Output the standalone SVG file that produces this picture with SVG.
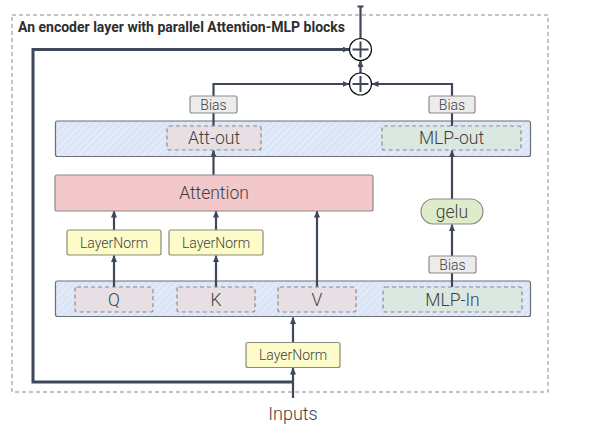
<svg xmlns="http://www.w3.org/2000/svg" width="601" height="432" viewBox="0 0 601 432">
<style>
text{font-family:Roboto,"Liberation Sans",sans-serif;fill:#3f3f3f;text-anchor:middle}
.title{font-weight:bold;font-size:14px;text-anchor:start;fill:#2e2e2e}
.band{fill:url(#hatch);stroke:#6b6f78;stroke-width:1.2}
.dash{stroke:#8a8a8a;stroke-width:1.2;stroke-dasharray:4 3}
.pk{fill:#e7dfe3}
.gr{fill:#dbe7e1}
.att{fill:#f2c8ca;stroke:#8a8a8a;stroke-width:1.2}
.ln{fill:#fdfcc9;stroke:#8a8a7a;stroke-width:1.2}
.bias{fill:#ececec;stroke:#8c8c8c;stroke-width:1.2}
.gelu{fill:#deecca;stroke:#8a8a8a;stroke-width:1.2}
.big{font-size:17.5px;font-weight:300}
.sm{font-size:14px;font-weight:300}
.wire{fill:none;stroke:#3f4858;stroke-width:2.2}
.skip{fill:none;stroke:#3f4858;stroke-width:3}
.arr{marker-end:url(#ah)}
.plus{fill:#fff;stroke:#111;stroke-width:1.2}
.pl{stroke:#3f4858;stroke-width:2}
</style>
<defs>
<pattern id="hatch" width="5" height="5" patternUnits="userSpaceOnUse" patternTransform="rotate(45)">
<rect width="5" height="5" fill="#dce5f6"/>
<line x1="0" y1="0" x2="0" y2="5" stroke="#eaeffa" stroke-width="2"/>
</pattern>
<marker id="ah" markerWidth="7" markerHeight="6" refX="6.5" refY="3" orient="auto" markerUnits="userSpaceOnUse">
<path d="M0,0 L7,3 L0,6 z" fill="#3f4858"/>
</marker>
</defs>

<rect id="frame" x="12" y="15" width="536" height="377" fill="none" stroke="#8a8a8a" stroke-width="1" stroke-dasharray="4 3"/>
<text class="title" x="18" y="32">An encoder layer with parallel Attention-MLP blocks</text>

<g id="upper-band">
<rect class="band" x="55.5" y="121" width="475" height="35.5" rx="2"/>
</g>
<g id="lower-band">
<rect class="band" x="55.5" y="281" width="475" height="35.5" rx="2"/>
</g>

<g id="connectors">
<path class="skip arr" d="M293,382 H33 V49.5 H349"/>
<path class="wire arr" d="M293,398 V368"/>
<path class="wire arr" d="M293,342.5 V317.5"/>
<path class="wire arr" d="M114,287 V255.5"/>
<path class="wire arr" d="M114,230 V211"/>
<path class="wire arr" d="M216,287 V255.5"/>
<path class="wire arr" d="M216,230 V211"/>
<path class="wire arr" d="M317,287 V211"/>
<path class="wire arr" d="M213.5,175 V150.5"/>
<path class="wire" d="M213.5,126 V113"/>
<path class="wire arr" d="M213.5,96 V84 H349"/>
<path class="wire" d="M452,287 V273"/>
<path class="wire arr" d="M452,256 V224.5"/>
<path class="wire arr" d="M452,199 V150.5"/>
<path class="wire" d="M452,126 V113"/>
<path class="wire arr" d="M452,96 V84 H372"/>
<path class="wire arr" d="M360.5,73 V60.5"/>
<path class="wire" d="M360.5,38.5 V6.5 M357.5,6.5 H363.5"/>
</g>

<g id="att-out"><rect class="dash pk" x="167" y="126" width="94" height="24" rx="2"/><text class="big" x="214" y="144">Att-out</text></g>
<g id="mlp-out"><rect class="dash gr" x="382" y="126" width="139" height="24" rx="2"/><text class="big" x="451.5" y="144">MLP-out</text></g>
<g id="q"><rect class="dash pk" x="75" y="287" width="78" height="25" rx="2"/><text class="big" x="114" y="306">Q</text></g>
<g id="k"><rect class="dash pk" x="177" y="287" width="78" height="25" rx="2"/><text class="big" x="216" y="306">K</text></g>
<g id="v"><rect class="dash pk" x="278" y="287" width="78" height="25" rx="2"/><text class="big" x="317" y="306">V</text></g>
<g id="mlp-in"><rect class="dash gr" x="383" y="287" width="139" height="25" rx="2"/><text class="big" x="452.5" y="306">MLP-In</text></g>

<g id="attention"><rect class="att" x="55" y="175" width="318" height="36" rx="2"/><text class="big" x="214" y="199">Attention</text></g>

<g id="ln-q"><rect class="ln" x="67" y="230" width="94" height="25" rx="2"/><text class="sm" x="114" y="247.5">LayerNorm</text></g>
<g id="ln-k"><rect class="ln" x="169" y="230" width="94" height="25" rx="2"/><text class="sm" x="216" y="247.5">LayerNorm</text></g>
<g id="ln-in"><rect class="ln" x="246" y="342.5" width="94" height="25" rx="2"/><text class="sm" x="293" y="360">LayerNorm</text></g>

<g id="bias-att"><rect class="bias" x="190" y="96" width="47" height="17" rx="2"/><text class="sm" x="213.5" y="109.5">Bias</text></g>
<g id="bias-mlp-out"><rect class="bias" x="429" y="96" width="46" height="17" rx="2"/><text class="sm" x="452" y="109.5">Bias</text></g>
<g id="bias-mlp-in"><rect class="bias" x="429" y="256" width="47" height="17" rx="2"/><text class="sm" x="452.5" y="269.5">Bias</text></g>

<g id="gelu"><rect class="gelu" x="421" y="199" width="62" height="25" rx="12.5"/><text class="big" x="452" y="217.5">gelu</text></g>

<g id="add-mlp"><circle class="plus" cx="360.5" cy="84" r="11"/><path class="pl" d="M352.5,84 H368.5 M360.5,76 V92"/></g>
<g id="add-skip"><circle class="plus" cx="360.5" cy="49.5" r="11"/><path class="pl" d="M352.5,49.5 H368.5 M360.5,41.5 V57.5"/></g>

<text id="inputs" class="big" x="293" y="420" style="font-size:18px">Inputs</text>
</svg>
